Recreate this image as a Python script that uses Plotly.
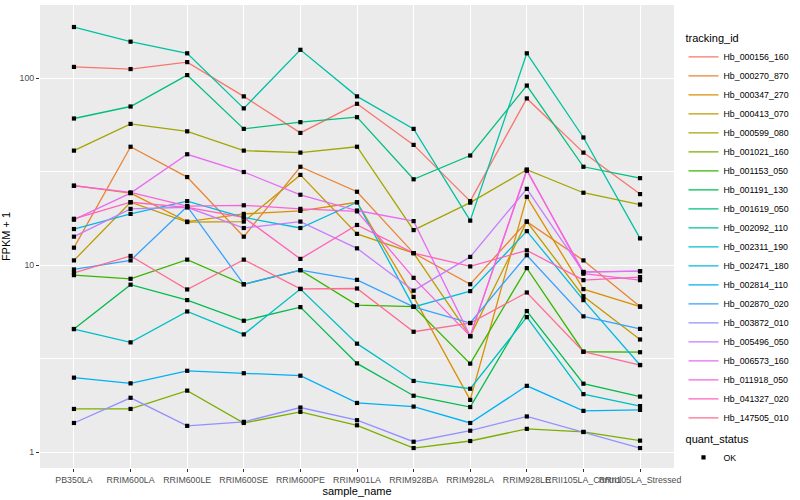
import plotly.graph_objects as go

sample_names = ["PB350LA", "RRIM600LA", "RRIM600LE", "RRIM600SE", "RRIM600PE",
                "RRIM901LA", "RRIM928BA", "RRIM928LA", "RRIM928LE",
                "RRII105LA_Control", "RRII105LA_Stressed"]

tracking_ids = ["Hb_000156_160", "Hb_000270_870", "Hb_000347_270", "Hb_000413_070",
                "Hb_000599_080", "Hb_001021_160", "Hb_001153_050", "Hb_001191_130",
                "Hb_001619_050", "Hb_002092_110", "Hb_002311_190", "Hb_002471_180",
                "Hb_002814_110", "Hb_002870_020", "Hb_003872_010", "Hb_005496_050",
                "Hb_006573_160", "Hb_011918_050", "Hb_041327_020", "Hb_147505_010"]

# FPKM + 1 values, one list per gene, in sample_names order
hb_000156_160 = [115, 112, 122, 80, 51, 73, 44, 22, 78, 40, 24]
hb_000270_870 = [12.4, 43, 29.6, 14.2, 33.6, 24.7, 11.6, 7.9, 17.1, 10.6, 6.0]
hb_000347_270 = [26.6, 24.3, 17.1, 18.8, 19.5, 21.7, 6.76, 1.9, 23.2, 7.44, 6.0]
hb_000413_070 = [10.6, 21.7, 17.0, 17.1, 30.4, 14.7, 11.6, 4.17, 17.1, 6.82, 4.0]
hb_000599_080 = [41, 57, 52, 41, 40, 43, 15.4, 21.6, 32.4, 24.4, 21.1]
hb_001021_160 = [1.70, 1.70, 2.13, 1.43, 1.64, 1.39, 1.05, 1.145, 1.33, 1.28, 1.15]
hb_001153_050 = [8.84, 8.45, 10.7, 7.9, 9.4, 6.11, 6.0, 2.97, 9.64, 3.44, 3.42]
hb_001191_130 = [4.55, 7.86, 6.5, 5.04, 5.96, 2.98, 2.0, 1.74, 5.68, 2.32, 1.98]
hb_001619_050 = [60.9, 70.6, 104, 53.6, 58.2, 61.9, 28.8, 38.6, 91.4, 33.6, 29.2]
hb_002092_110 = [188, 157, 136, 69, 142, 80, 53.6, 17.3, 136, 48.2, 13.9]
hb_002311_190 = [4.55, 3.86, 5.65, 4.26, 7.45, 3.8, 2.4, 2.18, 5.27, 2.04, 1.76]
hb_002471_180 = [15.6, 18.8, 22.0, 18.0, 15.8, 21.7, 5.98, 7.26, 15.2, 6.5, 2.92]
hb_002814_110 = [2.50, 2.33, 2.72, 2.64, 2.56, 1.83, 1.75, 1.43, 2.26, 1.66, 1.68]
hb_002870_020 = [9.48, 10.6, 20.6, 7.9, 9.4, 8.34, 5.98, 4.9, 11.3, 5.32, 4.56]
hb_003872_010 = [1.43, 1.95, 1.38, 1.45, 1.73, 1.48, 1.135, 1.3, 1.55, 1.28, 1.05]
hb_005496_050 = [14.2, 20.0, 20.4, 15.8, 17.1, 12.3, 7.3, 11.07, 25.6, 9.18, 9.28]
hb_006573_160 = [17.5, 24.3, 39.2, 31.5, 23.8, 19.6, 17.2, 4.17, 32.0, 9.2, 9.28]
hb_011918_050 = [26.6, 24.5, 20.7, 20.9, 20.0, 19.4, 8.55, 4.17, 32.4, 9.0, 8.31]
hb_041327_020 = [17.7, 21.7, 20.4, 18.0, 10.8, 16.4, 11.6, 9.84, 12.0, 8.31, 8.63]
hb_147505_010 = [9.09, 11.2, 7.41, 10.7, 7.47, 7.5, 4.4, 4.9, 7.14, 3.44, 2.92]

series_values = [hb_000156_160, hb_000270_870, hb_000347_270, hb_000413_070,
                 hb_000599_080, hb_001021_160, hb_001153_050, hb_001191_130,
                 hb_001619_050, hb_002092_110, hb_002311_190, hb_002471_180,
                 hb_002814_110, hb_002870_020, hb_003872_010, hb_005496_050,
                 hb_006573_160, hb_011918_050, hb_041327_020, hb_147505_010]

colors = ["#F8766D", "#EA8331", "#D89000", "#C09B00", "#A3A500", "#7CAE00",
          "#39B600", "#00BB4E", "#00BF7D", "#00C1A3", "#00BFC4", "#00BAE0",
          "#00B0F6", "#35A2FF", "#9590FF", "#C77CFF", "#E76BF3", "#FA62DB",
          "#FF62BC", "#FF6C91"]

y_ticks = [1, 10, 100]
y_minor = [10 ** 0.5, 10 ** 1.5]

FONT = "Liberation Sans, Arial, sans-serif"

fig = go.Figure()
for tid, vals, col in zip(tracking_ids, series_values, colors):
    fig.add_trace(go.Scatter(
        x=sample_names, y=vals, mode="lines", name=tid,
        line=dict(color=col, width=1.3), legend="legend"))

all_x = [s for vals in series_values for s in sample_names]
all_y = [v for vals in series_values for v in vals]
fig.add_trace(go.Scatter(
    x=all_x, y=all_y, mode="markers", name="OK",
    marker=dict(symbol="square", size=4.2, color="black"),
    legend="legend2"))

fig.update_layout(
    width=800, height=500,
    margin=dict(l=40, r=116, t=5, b=32),
    paper_bgcolor="white", plot_bgcolor="#EBEBEB",
    font=dict(family=FONT, size=9, color="black"),
    showlegend=True,
    legend=dict(
        title=dict(text="tracking_id", font=dict(size=11)),
        x=1.015, xanchor="left", y=0.95, yanchor="top",
        font=dict(size=8.8), itemwidth=30, tracegroupgap=0,
        bgcolor="rgba(0,0,0,0)"),
    legend2=dict(
        title=dict(text="quant_status", font=dict(size=11)),
        x=1.015, xanchor="left", y=0.085, yanchor="top",
        font=dict(size=8.8), itemwidth=30,
        bgcolor="rgba(0,0,0,0)"),
    xaxis=dict(
        type="category", categoryorder="array", categoryarray=sample_names,
        range=[-0.6, len(sample_names) - 0.4],
        showgrid=True, gridcolor="white", gridwidth=1.1,
        ticks="outside", ticklen=3, tickcolor="#333333", tickangle=0,
        tickfont=dict(size=8.8, color="#4D4D4D"),
        title=dict(text="sample_name", font=dict(size=11), standoff=0),
        zeroline=False, showline=False, automargin=False),
    yaxis=dict(
        type="log", range=[-0.0856, 2.392],
        tickvals=y_ticks, ticktext=[str(v) for v in y_ticks],
        showgrid=True, gridcolor="white", gridwidth=1.1,
        ticks="outside", ticklen=3, tickcolor="#333333",
        tickfont=dict(size=8.8, color="#4D4D4D"),
        minor=dict(tickvals=y_minor, showgrid=True, gridcolor="white",
                   gridwidth=0.5, ticks=""),
        title=dict(text="FPKM + 1", font=dict(size=11), standoff=6),
        zeroline=False, showline=False, automargin=False),
)

fig.write_html("out.html",
               config={"displayModeBar": False},
               post_script="document.body.style.margin='0';document.body.style.padding='0';")
